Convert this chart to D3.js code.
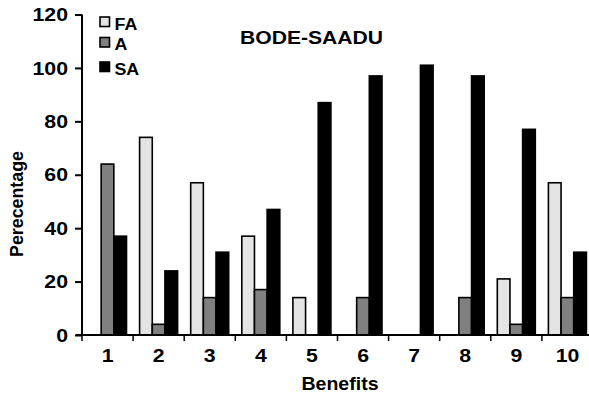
<!DOCTYPE html>
<html><head><meta charset="utf-8">
<script src="https://cdn.jsdelivr.net/npm/d3@7"></script>
<style>body{margin:0;background:#fff}svg{display:block}text{font-family:"Liberation Sans",Arial,sans-serif;font-weight:bold;fill:#000}</style>
</head><body>
<script>
const categories = ["1","2","3","4","5","6","7","8","9","10"];
const seriesNames = ["FA","A","SA"];
const faValues = [0,74,57,37,14,0,0,0,21,57];
const aValues  = [64,4,14,17,0,14,0,14,4,14];
const saValues = [37,24,31,47,87,97,101,97,77,31];
const yTicks = [0,20,40,60,80,100,120];
const colors = ["#e4e4e4","#808080","#000000"];

const W = 589, H = 396;
const svg = d3.select("body").append("svg").attr("width", W).attr("height", H);

const x0 = d3.scaleBand().domain(categories).range([82, 593]).paddingInner(0).paddingOuter(0);
const x1 = d3.scaleBand().domain(seriesNames).range([6.5, 44.5]);
const y = d3.scaleLinear().domain([0, 120]).range([335, 14.5]);

const seriesValues = [faValues, aValues, saValues];
const rows = [];
categories.forEach((c, i) => seriesNames.forEach((s, j) => rows.push({c, s, j, v: seriesValues[j][i]})));

svg.append("g").selectAll("rect").data(rows.filter(d => d.v > 0)).join("rect")
  .attr("x", d => x0(d.c) + x1(d.s))
  .attr("y", d => y(d.v))
  .attr("width", x1.bandwidth())
  .attr("height", d => y(0) - y(d.v))
  .attr("fill", d => colors[d.j])
  .attr("stroke", "#000").attr("stroke-width", 1.6);

// y axis
const yAxis = svg.append("g").attr("transform", "translate(82,0)")
  .call(d3.axisLeft(y).tickValues(yTicks).tickSize(7).tickPadding(7));
yAxis.select(".domain").attr("stroke-width", 2).attr("d", `M0,${y(120)}V${y(0)}`);
yAxis.selectAll(".tick line").attr("stroke-width", 2);
yAxis.selectAll(".tick text").attr("font-size", 19).attr("font-family", null)
  .attr("transform", "scale(1.12,1)").attr("x", -14/1.12);

// x axis
const xAxisG = svg.append("g");
xAxisG.append("line").attr("x1", 76).attr("x2", 593).attr("y1", y(0)).attr("y2", y(0))
  .attr("stroke", "#000").attr("stroke-width", 2);
xAxisG.selectAll("line.tk").data(categories).join("line").attr("class", "tk")
  .attr("x1", d => x0(d)).attr("x2", d => x0(d))
  .attr("y1", y(0)).attr("y2", y(0) + 6).attr("stroke", "#000").attr("stroke-width", 1.5);
xAxisG.selectAll("text").data(categories).join("text")
  .attr("transform", d => `translate(${x0(d) + x0.bandwidth()/2},362) scale(1.12,1)`)
  .attr("text-anchor", "middle").attr("font-size", 19).text(d => d);

// axis titles
svg.append("text").attr("x", 340).attr("y", 390).attr("text-anchor", "middle")
  .attr("font-size", 19).attr("textLength", 77).attr("lengthAdjust", "spacingAndGlyphs").text("Benefits");
svg.append("text").attr("transform", "translate(23,204) rotate(-90)").attr("text-anchor", "middle")
  .attr("font-size", 18).attr("textLength", 106).attr("lengthAdjust", "spacingAndGlyphs").text("Perecentage");

// title
svg.append("text").attr("x", 240).attr("y", 44).attr("font-size", 18)
  .attr("textLength", 143).attr("lengthAdjust", "spacingAndGlyphs").text("BODE-SAADU");

// legend
const legendY = [17, 37.5, 62];
const leg = svg.append("g").selectAll("g").data(seriesNames).join("g")
  .attr("transform", (d, i) => `translate(100,${legendY[i]})`);
leg.append("rect").attr("width", 9.5).attr("height", 9.5)
  .attr("fill", (d, i) => colors[i]).attr("stroke", "#000").attr("stroke-width", 1.6);
leg.append("text").attr("x", 14.5 / 1.08).attr("y", 12.5).attr("font-size", 16.5)
  .attr("transform", "scale(1.08,1)").text(d => d);
</script>
</body></html>
